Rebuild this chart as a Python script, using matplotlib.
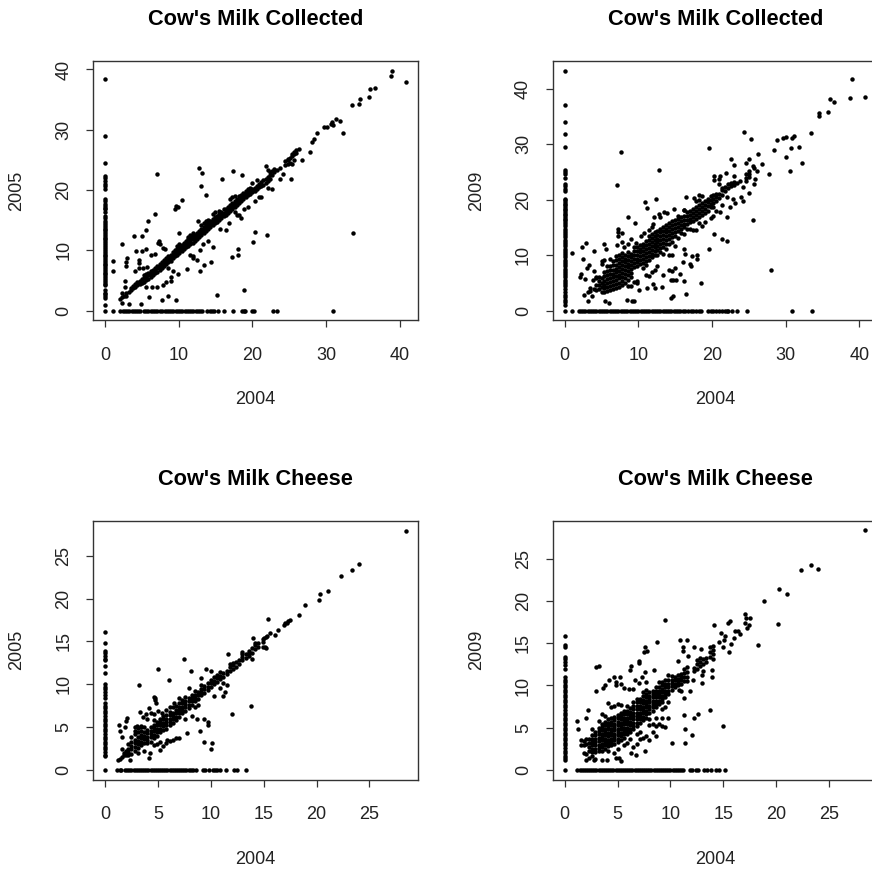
import matplotlib
matplotlib.use("Agg")
import matplotlib.pyplot as plt

plt.rcParams["font.family"] = ["Liberation Sans", "DejaVu Sans"]

FIG_W, FIG_H = 872, 869
INK = "#000000"
BOX = "#333333"

# ---- Cow's Milk Collected, 2004 vs 2005 ---- #
mc05_col = [38.45, 28.9, 24.55, 22.4, 22.05, 21.5, 21.0, 20.6, 20.2, 18.5, 18.2, 17.7, 17.4, 17.1, 16.8, 16.4,
            15.7, 15.3, 14.9, 14.5, 14.2, 13.9, 13.6, 13.3, 13.0, 12.7, 12.4, 12.1, 11.8, 11.5, 11.2, 10.9,
            10.6, 10.2, 9.9, 9.6, 9.3, 9.0, 8.7, 8.4, 8.1, 7.8, 7.5, 7.2, 6.9, 6.6, 6.3, 6.0, 5.7, 5.4, 5.1,
            4.8, 4.5, 4.2, 3.4, 3.0, 2.7, 2.4, 2.1, 1.0, 0.0]
mc05_row = [1.05, 2.1, 2.4, 2.7, 3.0, 3.3, 3.6, 3.9, 4.2, 4.5, 4.8, 5.3, 5.6, 5.9, 6.2, 6.5, 6.8, 7.1, 7.4, 7.8, 8.1,
            8.4, 8.7, 9.0, 9.3, 9.6, 9.9, 10.2, 10.5, 10.8, 11.1, 11.4, 11.7, 12.0, 12.3, 12.6, 12.9, 13.2,
            13.9, 14.2, 14.5, 14.8, 15.3, 16.1, 17.4, 18.6, 18.9, 19.0, 20.0, 20.2, 22.8, 23.4, 30.9]
mc05_core = [(2.0, [2.0]), (2.3, [2.2]), (2.6, [2.5]), (2.9, [2.9, 2.4]), (3.2, [3.1]), (3.5, [3.4, 3.8]),
             (3.8, [3.7, 4.1]), (4.1, [3.9, 4.4]), (4.4, [4.2, 4.7]), (4.7, [4.4, 5.0]), (5.0, [4.6, 5.2]),
             (5.3, [4.8, 5.4, 5.9]), (5.6, [5.1, 5.6, 6.1]), (5.9, [5.3, 5.9, 6.3]), (6.2, [5.6, 6.1, 6.6]),
             (6.5, [5.9, 6.4, 6.8]), (6.8, [6.2, 6.7, 7.1]), (7.1, [6.4, 7.0, 7.4]), (7.4, [6.8, 7.3, 7.7]),
             (7.7, [7.1, 7.6, 8.0]), (8.0, [7.4, 7.9, 8.4]), (8.3, [7.7, 8.2, 8.7]), (8.6, [8.0, 8.5, 9.0]),
             (8.9, [8.3, 8.8, 9.3]), (9.2, [8.7, 9.2, 9.7]), (9.5, [9.0, 9.5, 10.0]), (9.8, [9.3, 9.8, 10.3, 10.8]),
             (10.1, [9.6, 10.1, 10.6, 11.0]), (10.4, [9.9, 10.4, 10.9]), (10.7, [10.2, 10.7, 11.2]),
             (11.0, [10.5, 11.0, 11.5]), (11.3, [10.8, 11.3, 11.8, 12.2]), (11.6, [11.0, 11.6, 12.1, 12.6]),
             (11.9, [11.3, 11.8, 12.3, 12.8]), (12.2, [11.6, 12.1, 12.6]), (12.5, [11.9, 12.4, 12.9]),
             (12.8, [12.2, 12.7, 13.2]), (13.1, [12.5, 13.0, 13.5, 14.2]), (13.4, [12.9, 13.4, 13.9, 14.6]),
             (13.7, [13.2, 13.7, 14.2, 14.8]), (14.0, [13.5, 14.0, 14.5, 15.0]), (14.3, [13.8, 14.3, 14.8]),
             (14.6, [14.2, 14.7, 15.2, 16.1]), (14.9, [14.5, 15.0, 15.5, 16.4]), (15.2, [14.7, 15.2, 15.7]),
             (15.5, [15.0, 15.5, 16.0, 16.5]), (15.8, [15.3, 15.8, 16.3]), (16.1, [15.7, 16.2, 16.8]),
             (16.4, [15.9, 16.4, 16.9]), (16.7, [16.2, 16.7, 17.2]), (17.0, [16.6, 17.1, 17.6, 18.5]),
             (17.3, [16.9, 17.4, 17.9, 18.8]), (17.6, [16.4, 17.2, 17.7, 18.2, 19.0]), (17.9, [15.8, 17.5, 18.0, 18.5]),
             (18.2, [15.9, 17.9, 18.4, 19.0]), (18.5, [15.4, 18.2, 18.7, 19.2]), (18.8, [18.5, 19.0, 19.5]),
             (19.1, [18.8, 19.3, 19.8]), (19.4, [19.1, 19.6, 20.1]), (19.7, [19.3, 19.8, 20.3]),
             (20.0, [19.6, 20.1, 21.2]), (20.3, [18.2, 19.9, 20.4]), (20.6, [20.2, 20.7, 21.6]),
             (20.9, [20.5, 21.0, 18.9]), (21.2, [20.7, 21.3, 18.9]), (21.5, [20.9, 21.6]),
             (21.8, [21.2, 21.8, 24.0]), (22.1, [21.5, 22.1, 23.4, 20.4]), (22.4, [21.9, 22.5, 23.0]),
             (22.7, [22.5, 23.1, 20.2]), (23.0, [23.0, 23.5]), (23.4, [23.4]), (23.8, [23.6]),
             (24.4, [24.2, 24.8]), (24.8, [24.3, 24.9, 25.2]), (25.1, [24.5, 25.3]), (25.4, [24.3, 25.6, 26.0]),
             (25.7, [24.9, 25.9, 26.3]), (26.0, [26.2, 26.7]), (26.3, [26.8])]
mc05_out = [(40.85, 37.9), (39.0, 39.8), (38.8, 38.9), (36.6, 37.0), (36.0, 36.8), (35.9, 35.5), (34.6, 35.1),
            (34.55, 34.2), (33.5, 34.1), (33.65, 12.8), (32.25, 29.5), (31.9, 31.4), (31.3, 31.7), (30.8, 31.3),
            (30.7, 31.0), (30.9, 30.8), (30.1, 30.5), (29.7, 30.4), (28.85, 29.5), (28.4, 28.5), (28.1, 28.0),
            (27.85, 26.3), (26.8, 24.9), (25.2, 21.85), (24.2, 22.6), (23.8, 21.9), (7.1, 22.7), (12.8, 23.6),
            (13.2, 22.9), (17.4, 23.1), (18.65, 22.5), (15.9, 21.9), (13.1, 20.7), (13.7, 19.1), (10.4, 18.4),
            (9.65, 17.4), (9.9, 17.25), (9.5, 16.8), (6.85, 16.0), (5.9, 14.9), (5.5, 13.4), (4.0, 12.4), (5.0, 12.4),
            (2.35, 11.0), (7.3, 11.6), (7.15, 11.2), (7.5, 11.05), (1.05, 8.3), (1.05, 6.6), (2.95, 8.8), (2.8, 8.0),
            (2.8, 7.4), (4.2, 9.85), (5.05, 9.95), (5.5, 10.2), (4.65, 8.4), (4.65, 7.85), (6.3, 9.25), (6.8, 9.4),
            (7.85, 10.35), (8.1, 10.2), (2.7, 5.0), (2.7, 3.9), (2.35, 1.3), (3.2, 1.05), (4.85, 1.05), (2.25, 2.9),
            (6.0, 2.3), (7.7, 1.8), (8.5, 2.4), (9.65, 1.8), (15.2, 2.6), (18.85, 3.4), (4.1, 6.5), (4.65, 7.0),
            (5.75, 7.3), (5.2, 7.1), (14.7, 10.6), (20.3, 13.0), (20.15, 11.45), (22.0, 12.55), (18.0, 10.2),
            (18.0, 9.3), (17.2, 8.9), (14.35, 8.15), (13.5, 7.5), (12.9, 6.6), (11.1, 6.85), (9.9, 6.0), (9.3, 6.5),
            (11.9, 9.0), (11.5, 9.3), (12.45, 8.4), (12.0, 8.8), (12.9, 10.0), (13.3, 11.1), (14.0, 11.5),
            (9.0, 5.0), (8.6, 7.0), (7.9, 4.3), (8.3, 4.7), (6.4, 3.9), (7.0, 3.9), (5.5, 3.9), (9.0, 5.5),
            (10.1, 12.8), (12.6, 14.8), (15.6, 13.6), (16.4, 13.4), (16.9, 14.6), (18.9, 16.9), (19.4, 17.2)]

# ---- Cow's Milk Collected, 2004 vs 2009 ---- #
mc09_col = [43.2, 37.05, 34.05, 31.9, 29.55, 25.35, 25.0, 24.6, 23.9, 22.9, 22.4, 21.9, 21.5, 20.2, 19.9, 19.6,
            19.3, 19.0, 18.7, 18.4, 18.1, 17.8, 17.5, 17.2, 16.9, 16.6, 16.3, 16.0, 15.6, 15.2, 14.8, 14.4, 14.0,
            13.6, 13.2, 12.8, 12.4, 12.0, 11.6, 11.2, 10.8, 10.4, 10.0, 9.6, 9.2, 8.8, 8.4, 8.0, 7.6, 7.2, 6.8, 6.4,
            6.0, 5.6, 5.2, 4.8, 4.4, 3.9, 3.4, 2.9, 2.4, 1.9, 1.5, 1.0, 0.0]
mc09_row = [1.0, 1.9, 2.2, 2.5, 2.8, 3.1, 3.4, 3.7, 4.0, 4.3, 4.6, 4.9, 5.2, 5.5, 5.8, 6.1, 6.4, 6.7, 7.0, 7.3, 7.6,
            7.9, 8.2, 8.5, 8.8, 9.1, 9.4, 9.7, 10.0, 10.3, 10.6, 10.9, 11.2, 11.5, 11.8, 12.1, 12.4, 12.7, 13.0,
            13.3, 13.6, 13.9, 14.2, 14.5, 14.8, 15.1, 15.4, 15.7, 16.0, 16.4, 16.8, 17.1, 17.4, 17.8, 18.2, 18.5,
            19.5, 19.8, 20.1, 20.5, 20.9, 21.3, 21.7, 22.0, 22.2, 22.7, 23.4, 24.8, 30.9, 33.6]
mc09_core = [(4.2, [3.8, 4.7, 5.8]), (4.6, [3.9, 4.6, 5.3, 6.0]), (5.0, [3.4, 4.2, 5.0, 5.8, 8.4, 8.9]),
             (5.4, [3.3, 4.0, 4.7, 5.4, 6.2, 7.0, 9.2]), (5.8, [3.5, 4.3, 5.0, 5.7, 6.5, 7.2, 8.0]),
             (6.2, [3.8, 4.5, 5.2, 5.9, 6.6, 7.3, 8.1, 9.4]), (6.6, [3.9, 4.6, 5.3, 6.0, 6.7, 7.4, 8.2, 9.0]),
             (7.0, [4.1, 4.8, 5.5, 6.2, 6.9, 7.6, 8.3, 9.1, 9.8]), (7.4, [4.3, 5.0, 5.8, 6.5, 7.2, 7.9, 8.6, 9.3, 10.1]),
             (7.8, [4.6, 5.3, 6.0, 6.8, 7.5, 8.2, 8.9, 9.6, 10.4]), (8.2, [5.0, 5.8, 6.6, 7.3, 8.0, 8.7, 9.4, 10.1]),
             (8.6, [4.4, 5.5, 6.4, 7.1, 7.8, 8.5, 9.2, 9.9, 10.6]), (9.0, [4.5, 6.0, 6.8, 7.6, 8.3, 9.0, 9.7, 10.3]),
             (9.4, [5.2, 7.9, 8.6, 9.3, 10.0, 10.7, 11.4]), (9.8, [4.9, 5.4, 8.0, 8.7, 9.4, 10.1, 10.8, 11.5]),
             (10.2, [8.4, 9.1, 9.8, 10.5, 11.2, 11.9]), (10.6, [7.7, 8.6, 9.3, 10.0, 10.7, 11.4, 12.1]),
             (11.0, [6.5, 8.2, 9.0, 9.7, 10.4, 11.1, 11.8, 12.5]), (11.4, [6.2, 9.2, 9.9, 10.6, 11.3, 12.0, 12.7, 13.4]),
             (11.8, [7.0, 9.6, 10.3, 11.0, 11.7, 12.4, 13.1, 13.8]), (12.2, [7.3, 10.0, 10.7, 11.4, 12.1, 12.8, 13.5, 14.2]),
             (12.6, [8.0, 10.1, 10.9, 11.6, 12.3, 13.0, 13.7, 14.4]), (13.0, [10.5, 11.3, 12.0, 12.7, 13.4, 14.1, 14.8]),
             (13.4, [6.4, 10.3, 11.5, 12.2, 12.9, 13.6, 14.3, 15.0]), (13.8, [11.2, 12.0, 12.7, 13.4, 14.1, 14.8, 15.5]),
             (14.2, [7.3, 10.0, 12.0, 13.0, 13.7, 14.4, 15.1, 15.8]), (14.6, [7.2, 10.1, 12.4, 13.3, 14.0, 14.7, 15.4, 16.1]),
             (15.0, [11.6, 13.5, 14.2, 14.9, 15.6, 16.3]), (15.4, [13.1, 14.4, 15.1, 15.8, 16.5, 17.0]),
             (15.8, [14.0, 14.8, 15.5, 16.2, 16.9]), (16.2, [13.9, 15.0, 15.7, 16.4, 17.1, 18.1]),
             (16.6, [14.8, 15.6, 16.3, 17.0, 17.7]), (17.0, [14.7, 15.9, 16.6, 17.3, 18.0]),
             (17.4, [14.5, 16.2, 16.9, 17.6, 18.3]), (17.8, [14.5, 16.5, 17.2, 17.9, 18.6, 19.7]),
             (18.2, [15.8, 16.9, 17.6, 18.3, 19.0, 20.0]), (18.6, [15.2, 17.3, 18.0, 18.7, 19.4, 20.6]),
             (19.0, [15.9, 17.6, 18.3, 19.0, 19.7]), (19.4, [18.0, 18.8, 19.5, 20.2]), (19.8, [16.7, 18.6, 19.3, 20.0, 20.7]),
             (20.2, [17.0, 18.7, 19.4, 20.1, 20.8]), (20.6, [18.0, 19.7, 20.4, 21.1]), (21.0, [20.3, 21.0, 22.8]),
             (21.4, [20.9, 21.7, 22.2]), (21.8, [21.6, 22.3]), (22.2, [22.1, 22.8]), (22.6, [22.4, 23.1]),
             (23.0, [22.6, 23.2]), (23.4, [23.1]), (23.8, [23.3]), (24.6, [23.9, 24.6, 23.4]), (25.0, [24.1, 24.7, 25.1])]
mc09_out = [(38.95, 41.8), (40.8, 38.5), (38.7, 38.25), (36.0, 38.1), (36.5, 37.65), (35.8, 35.8), (34.5, 35.55),
            (34.5, 35.0), (33.5, 32.0), (31.2, 31.5), (30.9, 31.2), (30.05, 31.3), (29.6, 31.2), (28.8, 30.75),
            (28.4, 28.95), (31.85, 29.55), (30.7, 29.25), (30.05, 27.75), (32.2, 26.65), (30.6, 25.2), (27.8, 24.6),
            (26.75, 26.4), (26.3, 28.3), (25.3, 30.9), (24.3, 32.25), (19.6, 29.3), (7.6, 28.65), (12.75, 25.3),
            (7.1, 22.65), (25.5, 16.4), (28.05, 7.3), (22.05, 12.55), (21.4, 12.9), (20.25, 13.9), (19.6, 11.2),
            (18.5, 4.9), (18.0, 10.0), (18.0, 9.4), (17.25, 9.85), (17.05, 8.35), (17.15, 8.05), (16.2, 11.1),
            (16.3, 10.3), (16.1, 8.85), (16.2, 5.4), (16.5, 2.95), (14.75, 2.65), (14.5, 2.35), (15.6, 6.7), (15.0, 7.75),
            (14.7, 5.5), (14.5, 5.5), (15.1, 5.5), (13.2, 4.2), (12.2, 4.15), (12.05, 4.8), (11.2, 4.1), (10.05, 3.7),
            (9.45, 1.75), (9.1, 1.8), (8.5, 1.9), (6.05, 1.45), (5.5, 1.8), (3.1, 1.8), (2.65, 2.75), (3.7, 2.7),
            (3.1, 3.3), (3.45, 3.5), (1.0, 10.45), (2.35, 11.55), (2.9, 12.25), (3.95, 10.75), (5.4, 12.05), (5.65, 11.2),
            (2.5, 9.25), (3.35, 8.15), (3.0, 7.7), (3.95, 7.2), (2.15, 6.7), (2.1, 6.1), (2.7, 5.65), (3.9, 5.5), (4.25, 6.0),
            (8.65, 16.8), (9.55, 15.75), (10.95, 19.65), (11.15, 18.45), (12.45, 20.1), (7.3, 14.8), (7.3, 14.1),
            (7.8, 13.95), (7.2, 13.45), (7.8, 12.4), (7.1, 11.8), (9.05, 12.85), (9.7, 12.25), (11.5, 14.55), (12.15, 16.8),
            (12.75, 17.5), (12.95, 16.95), (13.5, 17.8), (13.85, 17.55), (14.9, 18.3), (16.5, 20.4), (16.25, 18.15),
            (17.6, 20.25), (18.3, 20.8), (20.3, 24.3), (21.1, 24.3), (20.3, 23.55), (21.0, 23.65), (21.85, 24.75),
            (22.6, 27.25), (23.05, 26.3), (23.05, 24.3), (24.65, 26.55), (25.0, 27.4), (25.5, 26.1), (25.65, 25.75),
            (26.05, 25.2), (25.05, 21.25), (25.75, 22.9), (25.8, 23.65), (24.15, 22.35), (23.95, 20.55), (24.2, 19.75),
            (23.1, 19.45), (22.5, 18.75), (22.05, 16.95), (21.1, 17.85), (21.35, 19.0), (22.8, 20.1), (22.1, 20.55),
            (3.4, 4.0), (4.0, 3.9), (8.0, 11.5), (8.6, 12.0), (10.3, 13.4), (10.8, 14.0), (11.8, 15.0), (12.0, 15.7)]

# ---- Cow's Milk Cheese, 2004 vs 2005 ---- #
ch05_col = [16.05, 14.85, 13.9, 13.6, 13.3, 13.0, 12.8, 12.15, 11.3, 10.0, 9.7, 9.4, 9.1, 8.8, 8.4, 7.8, 7.5, 7.2, 6.9,
            6.6, 6.3, 6.0, 5.7, 5.4, 5.1, 4.8, 4.5, 4.2, 3.9, 3.6, 3.3, 3.0, 2.7, 2.4, 2.1, 1.8, 1.6, 0.0]
ch05_row = [1.15, 1.4, 1.5, 1.9, 2.1, 2.3, 2.5, 2.7, 2.9, 3.1, 3.3, 3.5, 3.7, 3.9, 4.1, 4.3, 4.5, 4.7, 4.9, 5.1, 5.3,
            5.5, 5.7, 5.9, 6.1, 6.3, 6.5, 6.7, 6.9, 7.1, 7.3, 7.5, 7.7, 7.9, 8.1, 8.3, 8.6, 9.3, 9.5, 9.8, 10.2, 10.4,
            10.6, 10.9, 11.45, 12.2, 12.5, 13.35]
ch05_core = [(1.2, [1.2]), (1.4, [1.3]), (1.6, [1.5]), (1.8, [1.7, 2.0]), (2.0, [1.8, 2.2]), (2.2, [1.7, 2.1, 2.5, 3.0]),
             (2.5, [1.9, 2.4, 2.8, 3.3, 3.8]), (2.8, [2.2, 2.7, 3.1, 3.5, 4.2, 4.6]), (3.1, [2.0, 2.6, 3.0, 3.4, 3.8, 4.4, 4.9]),
             (3.4, [2.9, 3.3, 3.7, 4.1, 4.6, 5.1]), (3.7, [2.2, 3.2, 3.6, 4.0, 4.4, 5.0]), (4.0, [3.1, 3.5, 3.9, 4.3, 4.7, 6.0]),
             (4.3, [3.3, 3.8, 4.2, 4.6, 5.0, 6.6]), (4.6, [2.9, 3.7, 4.1, 4.5, 4.9, 5.3, 5.8, 6.5]), (4.9, [3.0, 4.0, 4.4, 4.8, 5.2, 5.6]),
             (5.2, [3.3, 4.4, 4.8, 5.2, 5.6, 6.0]), (5.5, [2.8, 4.7, 5.1, 5.5, 5.9, 6.3]), (5.8, [3.2, 4.8, 5.2, 5.6, 6.0, 6.4, 7.0]),
             (6.1, [3.4, 5.2, 5.6, 6.0, 6.4, 6.8, 7.4]), (6.4, [5.5, 5.9, 6.3, 6.7, 7.3]), (6.7, [3.7, 5.8, 6.2, 6.6, 7.0, 7.5]),
             (7.0, [6.2, 6.6, 7.0, 7.4, 7.8, 8.4]), (7.3, [6.6, 7.0, 7.4, 7.8, 8.2]), (7.6, [6.0, 6.9, 7.3, 7.7, 8.1, 8.5]),
             (7.9, [7.2, 7.6, 8.0, 8.4, 9.6]), (8.2, [7.6, 8.0, 8.4, 8.8]), (8.5, [7.3, 8.0, 8.4, 8.8, 9.2]), (8.8, [7.6, 8.3, 8.7, 9.1]),
             (9.1, [8.7, 9.1, 9.5, 9.9]), (9.4, [9.0, 9.4, 9.8]), (9.7, [9.3, 9.7, 10.1]), (10.0, [9.7, 10.1, 10.5]),
             (10.3, [10.0, 10.4, 10.8]), (10.6, [10.3, 10.7, 11.1]), (10.9, [10.6, 11.0, 11.4, 9.6]), (11.2, [10.9, 11.3, 10.1]),
             (11.5, [11.2, 11.6, 9.9]), (11.8, [11.5, 12.0, 12.4]), (12.1, [11.8, 12.2, 12.5]), (12.4, [12.0, 12.6]), (12.7, [12.4, 12.8]),
             (13.0, [12.8, 13.2, 13.5]), (13.3, [13.1, 13.5]), (13.6, [13.3, 13.7, 13.9]), (13.9, [13.0, 13.7, 14.2]), (14.2, [14.1, 14.6]),
             (14.5, [14.3, 14.8]), (14.9, [14.4, 14.9, 15.3]), (15.2, [14.2, 15.5])]
ch05_out = [(28.45, 27.95), (24.0, 24.0), (23.35, 23.35), (22.3, 22.65), (21.1, 20.9), (20.3, 20.5), (20.25, 19.85), (18.9, 19.3),
            (18.3, 18.05), (15.45, 17.6), (17.5, 17.5), (17.35, 17.4), (17.2, 17.2), (17.0, 17.1), (16.9, 16.9), (16.4, 16.35), (16.1, 15.8),
            (15.6, 15.95), (15.0, 15.35), (15.3, 15.6), (14.0, 15.45), (14.2, 14.85), (15.15, 14.4), (11.6, 13.5), (12.95, 13.8), (7.5, 12.95),
            (5.0, 11.8), (8.1, 11.55), (6.05, 10.5), (3.25, 9.9), (9.55, 11.75), (10.0, 11.55), (9.1, 10.75), (4.6, 8.55), (4.75, 8.15), (4.7, 8.4),
            (4.85, 7.8), (4.15, 7.2), (3.3, 6.8), (2.05, 6.1), (2.0, 5.75), (1.35, 5.25), (1.9, 5.0), (1.4, 4.5), (1.65, 3.8), (1.6, 2.5),
            (13.8, 7.5), (12.05, 6.5), (11.35, 9.15), (11.15, 8.65), (10.3, 8.65), (10.15, 3.1), (10.0, 2.5), (9.4, 3.25), (9.0, 4.55), (9.7, 5.25),
            (9.7, 5.6), (9.4, 6.0), (8.7, 5.9), (8.2, 6.3), (7.75, 4.3), (7.0, 3.7), (6.45, 3.5), (5.85, 3.5), (5.2, 2.35), (4.25, 1.95),
            (4.2, 1.35), (2.35, 1.15), (3.6, 6.2), (3.9, 6.5), (2.8, 5.0), (3.0, 5.1), (3.4, 5.0), (5.0, 6.9), (5.4, 6.6), (6.5, 7.8)]

# ---- Cow's Milk Cheese, 2004 vs 2009 ---- #
ch09_col = [15.9, 14.8, 14.55, 13.4, 13.1, 12.8, 12.4, 11.9, 11.0, 10.7, 10.4, 10.1, 9.8, 9.5, 9.2, 8.9, 8.6, 8.3, 8.0, 7.7, 7.4,
            7.1, 6.8, 6.5, 6.2, 5.9, 5.6, 5.3, 5.0, 4.7, 4.4, 4.1, 3.8, 3.5, 3.2, 2.9, 2.6, 2.3, 2.0, 1.7, 1.4, 1.2, 0.0]
ch09_row = [1.2, 1.4, 1.6, 1.8, 2.0, 2.2, 2.4, 2.6, 2.8, 3.0, 3.2, 3.4, 3.6, 3.8, 4.0, 4.2, 4.4, 4.6, 4.8, 5.0, 5.2, 5.4, 5.6, 5.8,
            6.0, 6.2, 6.4, 6.6, 6.8, 7.0, 7.2, 7.4, 7.6, 7.8, 8.0, 8.2, 8.4, 8.6, 8.8, 9.0, 9.2, 9.4, 9.6, 9.8, 10.0, 10.2, 10.4,
            10.6, 10.8, 11.0, 11.2, 11.8, 12.0, 12.4, 12.6, 13.2, 13.5, 13.8, 14.3, 14.6, 15.2]
ch09_core = [(1.5, [3.5, 2.9]), (1.8, [3.4, 2.9, 2.0]), (2.0, [1.9, 3.1, 3.7]), (2.3, [1.4, 2.2, 2.7, 3.2, 3.7]),
             (2.6, [1.6, 2.1, 2.5, 2.9, 3.3, 3.7, 4.1, 4.8]), (2.9, [1.3, 2.1, 2.5, 2.9, 3.3, 3.7, 4.1, 4.5]),
             (3.2, [2.2, 2.6, 3.0, 3.4, 3.8, 4.2, 4.6, 5.0, 5.8]), (3.5, [2.3, 2.7, 3.1, 3.5, 3.9, 4.3, 4.7, 5.1, 5.5, 6.6]),
             (3.8, [2.5, 2.9, 3.3, 3.7, 4.1, 4.5, 4.9, 5.3, 5.7, 6.4]), (4.1, [2.3, 2.8, 3.2, 3.6, 4.0, 4.4, 4.8, 5.2, 5.6, 6.0, 7.9]),
             (4.4, [2.9, 3.3, 3.7, 4.1, 4.5, 4.9, 5.3, 5.7, 6.1, 7.4]), (4.7, [2.0, 3.1, 3.5, 3.9, 4.3, 4.7, 5.1, 5.5, 5.9, 6.3, 7.6]),
             (5.0, [2.5, 3.3, 3.7, 4.1, 4.5, 4.9, 5.3, 5.7, 6.1, 6.5, 7.8]), (5.3, [3.6, 4.0, 4.4, 4.8, 5.2, 5.6, 6.0, 6.4, 6.8, 7.7]),
             (5.6, [2.9, 3.8, 4.2, 4.6, 5.0, 5.4, 5.8, 6.2, 6.6, 7.0]), (5.9, [3.2, 4.2, 4.6, 5.0, 5.4, 5.8, 6.2, 6.6, 7.0, 7.6]),
             (6.2, [3.7, 4.5, 4.9, 5.3, 5.7, 6.1, 6.5, 6.9, 7.3]), (6.5, [2.7, 4.8, 5.2, 5.6, 6.0, 6.4, 6.8, 7.2, 7.6, 8.0]),
             (6.8, [3.1, 4.2, 5.2, 5.6, 6.0, 6.4, 6.8, 7.2, 7.6, 8.0, 8.4]), (7.1, [3.7, 4.5, 5.6, 6.0, 6.4, 6.8, 7.2, 7.6, 8.0, 8.4]),
             (7.4, [3.8, 5.9, 6.3, 6.7, 7.1, 7.5, 7.9, 8.3, 8.7, 9.2]), (7.7, [4.0, 6.2, 6.6, 7.0, 7.4, 7.8, 8.2, 8.6, 9.0, 9.5]),
             (8.0, [3.6, 5.3, 6.0, 6.8, 7.2, 7.6, 8.0, 8.4, 8.8, 9.2]), (8.3, [4.5, 5.5, 7.0, 7.4, 7.8, 8.2, 8.6, 9.0, 9.4]),
             (8.6, [4.0, 5.2, 6.2, 7.4, 7.8, 8.2, 8.6, 9.0, 9.4, 9.8]), (8.9, [5.5, 7.8, 8.2, 8.6, 9.0, 9.4, 9.8, 10.4]),
             (9.2, [5.2, 6.2, 7.2, 8.0, 8.4, 8.8, 9.2, 9.6, 10.0, 10.4]), (9.5, [5.1, 7.4, 8.6, 9.0, 9.4, 9.8, 10.2, 10.7]),
             (9.8, [6.1, 8.1, 9.0, 9.4, 9.8, 10.2, 10.6, 11.2]), (10.1, [9.5, 9.9, 10.3, 10.7, 11.1]), (10.4, [9.8, 10.2, 10.6, 11.0]),
             (10.7, [10.0, 10.4, 10.8, 11.2, 12.9]), (11.0, [10.2, 10.6, 11.0, 11.4, 9.3]), (11.3, [10.5, 11.0, 11.5, 12.0]),
             (11.6, [11.0, 11.6, 12.2, 10.5]), (12.2, [11.7, 12.1]), (12.5, [12.0, 12.6, 13.0]), (12.8, [12.3, 12.8, 13.2]),
             (13.1, [12.6, 13.1]), (13.4, [12.8, 13.2]), (13.7, [13.4, 14.0, 14.5]), (14.0, [13.1, 13.7, 14.2, 14.7])]
ch09_out = [(28.4, 28.4), (24.0, 23.75), (23.3, 24.3), (22.3, 23.65), (20.25, 21.45), (21.05, 20.85), (18.85, 20.05), (20.2, 17.25),
            (18.25, 14.75), (17.05, 18.5), (17.5, 18.0), (17.15, 18.0), (17.05, 17.4), (17.4, 17.2), (17.25, 16.8), (16.1, 16.5), (16.4, 16.4),
            (16.6, 16.1), (16.0, 15.6), (15.7, 14.9), (15.5, 14.0), (15.0, 14.6), (15.1, 15.4), (14.8, 16.25), (15.2, 15.8), (14.6, 15.1),
            (15.4, 17.45), (15.6, 17.65), (14.1, 17.2), (9.45, 17.75), (7.6, 14.6), (7.45, 14.0), (7.75, 14.1), (8.7, 15.2), (10.9, 15.4),
            (11.55, 15.35), (11.2, 14.6), (11.2, 14.1), (11.65, 13.45), (12.25, 14.55), (12.9, 14.3), (14.95, 5.25), (13.75, 7.15), (12.6, 6.65),
            (12.2, 6.15), (11.3, 6.45), (12.0, 4.15), (11.4, 4.8), (11.4, 3.15), (10.1, 3.2), (7.6, 2.25), (6.75, 1.8), (6.3, 2.05), (5.35, 1.05),
            (5.1, 1.4), (4.85, 1.4), (4.0, 1.2), (3.5, 1.2), (2.75, 1.2), (2.0, 1.2), (1.2, 5.8), (1.3, 4.85), (2.0, 6.1), (2.2, 7.1), (2.95, 9.3),
            (3.0, 12.2), (3.2, 12.3), (3.8, 10.1), (3.6, 9.75), (4.15, 10.65), (4.7, 11.0), (5.2, 11.05), (4.85, 10.45), (4.85, 10.0), (5.35, 10.15),
            (5.6, 9.7), (6.1, 9.6), (6.5, 9.6), (6.2, 11.85), (6.3, 12.3), (7.0, 12.95), (7.05, 12.65), (7.6, 11.55), (8.4, 11.85), (6.65, 10.65),
            (7.3, 11.05), (7.05, 10.25), (7.7, 10.45), (13.05, 11.75), (13.9, 11.8), (13.9, 10.95), (13.0, 11.2), (13.0, 10.25), (11.85, 9.4),
            (12.1, 10.65), (11.3, 8.5), (10.85, 9.5)]

# px rectangle of each plot box (left, top, width, height), x/y limits, ticks
titles = ["Cow's Milk Collected", "Cow's Milk Collected", "Cow's Milk Cheese", "Cow's Milk Cheese"]
ylabels = ["2005", "2009", "2005", "2009"]
xlabel = "2004"
boxes = [(93, 61, 325, 259), (552.7, 61, 325, 259), (93, 520.7, 325, 259), (552.7, 520.7, 325, 259)]
xlims = [(-1.63, 42.5), (-1.63, 42.5), (-1.14, 29.6), (-1.14, 29.6)]
ylims = [(-1.55, 41.4), (-1.68, 45.0), (-1.14, 29.1), (-1.15, 29.5)]
xticks = [[0, 10, 20, 30, 40], [0, 10, 20, 30, 40], [0, 5, 10, 15, 20, 25], [0, 5, 10, 15, 20, 25]]
yticks = [[0, 10, 20, 30, 40], [0, 10, 20, 30, 40], [0, 5, 10, 15, 20, 25], [0, 5, 10, 15, 20, 25]]
panels = [(mc05_col, mc05_row, mc05_core, mc05_out), (mc09_col, mc09_row, mc09_core, mc09_out),
          (ch05_col, ch05_row, ch05_core, ch05_out), (ch09_col, ch09_row, ch09_core, ch09_out)]

fig = plt.figure(figsize=(FIG_W / 100, FIG_H / 100), dpi=100)

for i, (col, row, core, out) in enumerate(panels):
    left, top, w, h = boxes[i]
    ax = fig.add_axes([left / FIG_W, 1 - (top + h) / FIG_H, w / FIG_W, h / FIG_H])

    xs = [0.0] * len(col) + list(row) + [p[0] for p in out]
    ys = list(col) + [0.0] * len(row) + [p[1] for p in out]
    for cx, cys in core:
        xs += [cx] * len(cys)
        ys += cys
    ax.plot(xs, ys, "o", color=INK, ms=3.2, mew=0)

    ax.set_xlim(*xlims[i])
    ax.set_ylim(*ylims[i])
    ax.set_xticks(xticks[i])
    ax.set_yticks(yticks[i])
    ax.tick_params(length=5.2, width=0.9, color=BOX, labelsize=13, labelcolor="#222222")
    ax.tick_params(axis="x", pad=14)
    ax.tick_params(axis="y", pad=9.7)
    plt.setp(ax.get_yticklabels(), rotation=90, va="center")
    for s in ax.spines.values():
        s.set_color(BOX)
        s.set_linewidth(1.0)
    ax.set_xlabel(xlabel, fontsize=13, color="#222222", labelpad=20)
    ax.set_ylabel(ylabels[i], fontsize=13, color="#222222", labelpad=21.5)
    ax.set_title(titles[i], fontsize=15.7, fontweight="bold", pad=26)

fig.savefig("out.png", dpi=100)
